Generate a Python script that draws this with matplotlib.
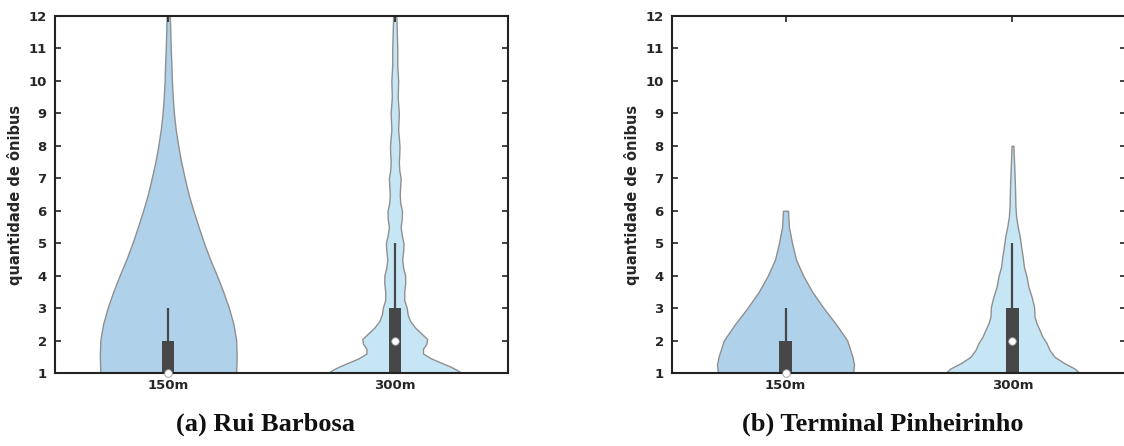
import matplotlib
matplotlib.use("Agg")
import matplotlib.pyplot as plt

# ---------------- data ----------------
categories = ["150m", "300m"]
panel_titles = ["(a) Rui Barbosa", "(b) Terminal Pinheirinho"]
y_ticks = [1, 2, 3, 4, 5, 6, 7, 8, 9, 10, 11, 12]

# violin outlines: density level (quantity of buses) and half width (x units)
rb150_y = [1.0, 1.5, 2.0, 2.5, 3.0, 3.5, 4.0, 4.5, 5.0, 5.5, 6.0, 6.5, 7.0,
           7.5, 8.0, 8.5, 9.0, 9.5, 10.0, 10.5, 11.0, 11.5, 12.0]
rb150_w = [0.300, 0.302, 0.300, 0.288, 0.268, 0.243, 0.215, 0.185, 0.158,
           0.134, 0.111, 0.090, 0.073, 0.057, 0.044, 0.033, 0.025, 0.020,
           0.016, 0.014, 0.011, 0.009, 0.007]

rb300_y = [1.0, 1.1, 1.2, 1.3, 1.45, 1.6, 1.75, 1.9, 2.05, 2.2, 2.4, 2.6, 2.8,
           3.0, 3.25, 3.5, 3.75, 4.0, 4.25, 4.5, 4.75, 5.0, 5.25, 5.5, 5.75,
           6.0, 6.25, 6.5, 6.75, 7.0, 7.25, 7.5, 7.75, 8.0, 8.5, 9.0, 9.5,
           10.0, 10.5, 11.0, 11.5, 12.0]
rb300_w = [0.295, 0.273, 0.245, 0.211, 0.160, 0.125, 0.125, 0.140, 0.143,
           0.120, 0.090, 0.068, 0.057, 0.053, 0.042, 0.042, 0.046, 0.046,
           0.037, 0.033, 0.037, 0.039, 0.031, 0.026, 0.031, 0.032, 0.024,
           0.022, 0.024, 0.026, 0.020, 0.018, 0.020, 0.021, 0.015, 0.018,
           0.013, 0.015, 0.011, 0.011, 0.009, 0.007]

tp150_y = [1.0, 1.25, 1.5, 2.0, 2.5, 3.0, 3.5, 4.0, 4.5, 5.0, 5.5, 6.0]
tp150_w = [0.297, 0.302, 0.295, 0.272, 0.223, 0.168, 0.118, 0.078, 0.046,
           0.029, 0.015, 0.011]

tp300_y = [1.0, 1.14, 1.3, 1.5, 1.71, 1.92, 2.12, 2.33, 2.53, 2.74, 3.04,
           3.35, 3.66, 3.97, 4.28, 4.58, 4.89, 5.2, 5.51, 5.82, 6.12, 6.43,
           6.95, 7.46, 8.0]
tp300_w = [0.295, 0.273, 0.229, 0.185, 0.163, 0.150, 0.132, 0.119, 0.106,
           0.097, 0.095, 0.084, 0.070, 0.062, 0.050, 0.045, 0.038, 0.032,
           0.023, 0.016, 0.013, 0.012, 0.010, 0.007, 0.004]

# box statistics per panel: [150m, 300m]
q1 = [[1, 1], [1, 1]]
median = [[1, 2], [1, 2]]
q3 = [[2, 3], [2, 3]]
whisker_hi = [[3, 5], [3, 5]]

violins = [[(rb150_y, rb150_w), (rb300_y, rb300_w)],
           [(tp150_y, tp150_w), (tp300_y, tp300_w)]]

# ---------------- style ----------------
plt.rcParams["font.family"] = ["DejaVu Sans"]
plt.rcParams["font.weight"] = "bold"
fill_colors = ["#afd1ea", "#c6e6f6"]
edge_color = "#8f8f8f"
box_color = "#474747"
text_color = "#262626"

fig = plt.figure(figsize=(11.24, 4.46), dpi=100)
W, H = 1124.0, 446.0
axes_px = [(55, 508), (672, 1126)]
y_top, y_bot = 16, 373

for p in range(2):
    x0, x1 = axes_px[p]
    ax = fig.add_axes([x0 / W, (H - y_bot) / H, (x1 - x0) / W, (y_bot - y_top) / H])
    for i in range(2):
        yy, ww = violins[p][i]
        left = [i - w for w in ww]
        right = [i + w for w in ww]
        ax.fill_betweenx(yy, left, right, facecolor=fill_colors[i],
                         edgecolor=edge_color, linewidth=1.0, zorder=1)
        ax.bar(i, q3[p][i] - q1[p][i], bottom=q1[p][i], width=0.053,
               color=box_color, zorder=2)
        ax.vlines(i, q3[p][i], whisker_hi[p][i], color=box_color,
                  linewidth=1.6, zorder=2)
        ax.scatter([i], [median[p][i]], s=30, facecolor="white",
                   edgecolor="#9a9a9a", linewidth=0.6, zorder=5, clip_on=False)

    ax.set_xlim(-0.5, 1.5)
    ax.set_ylim(1, 12)
    ax.set_xticks(range(len(categories)))
    ax.set_xticklabels(categories)
    ax.set_yticks(y_ticks)
    ax.tick_params(axis="both", direction="in", length=4, width=1.2,
                   colors="#222222", labelcolor=text_color, labelsize=9.5,
                   top=True, right=True)
    ax.tick_params(axis="x", pad=4)
    ax.tick_params(axis="y", pad=6)
    for lab in ax.get_xticklabels() + ax.get_yticklabels():
        lab.set_fontweight("bold")
    for s in ax.spines.values():
        s.set_linewidth(1.5)
        s.set_color("#222222")
        s.set_zorder(4)
    ax.set_ylabel("quantidade de ônibus", fontsize=10.5, fontweight="bold",
                  color=text_color, labelpad=4)

    fig.text(((x0 + x1) / 2 - 16) / W, 1 - 424 / H, panel_titles[p],
             ha="center", va="center", fontsize=19, fontweight="bold",
             family=["Liberation Serif", "DejaVu Serif"], color="#111111")

fig.savefig("out.png", dpi=100)
